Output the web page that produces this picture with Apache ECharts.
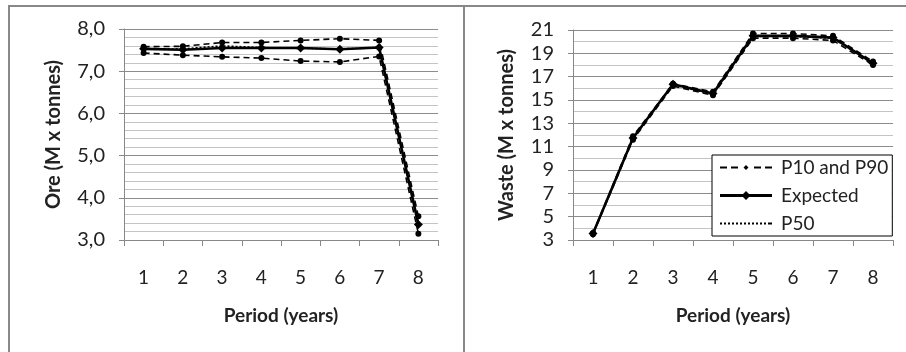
<!DOCTYPE html>
<html>
<head>
<meta charset="utf-8">
<script src="https://cdn.jsdelivr.net/npm/echarts@6/dist/echarts.min.js"></script>
<style>
  html, body { margin: 0; padding: 0; background: #fff; }
  .wrap { position: relative; width: 906px; height: 352px; overflow: hidden; }
  .panel { position: absolute; top: 5px; height: 360px; border-top: 2px solid #888; border-left: 2px solid #888; }
  .panel.left { left: 8px; width: 453px; }
  .panel.right { left: 463px; width: 450px; }
  #chart { position: absolute; left: 0; top: 0; width: 906px; height: 352px; }
</style>
</head>
<body>
<div class="wrap">
  <div class="panel left"></div>
  <div class="panel right"></div>
  <div id="chart"></div>
</div>
<script>
// period labels
const periods = ['1', '2', '3', '4', '5', '6', '7', '8']

// ore (M x tonnes)
const oreP10 = [7.43, 7.38, 7.34, 7.31, 7.24, 7.22, 7.35, 3.15]
const oreP90 = [7.58, 7.59, 7.68, 7.68, 7.73, 7.77, 7.73, 3.56]
const oreExpected = [7.53, 7.51, 7.55, 7.55, 7.55, 7.52, 7.56, 3.37]
const oreP50 = [7.52, 7.53, 7.60, 7.56, 7.54, 7.53, 7.55, 3.37]

// waste (M x tonnes)
const wasteP10 = [3.50, 11.6, 16.2, 15.4, 20.3, 20.3, 20.1, 18.0]
const wasteP90 = [3.60, 11.9, 16.4, 15.7, 20.7, 20.7, 20.5, 18.3]
const wasteExpected = [3.55, 11.75, 16.35, 15.55, 20.5, 20.5, 20.35, 18.15]
const wasteP50 = [3.55, 11.7, 16.3, 15.5, 20.45, 20.45, 20.3, 18.1]

const FONT = 'Lato, "Open Sans", sans-serif'
const txt = '#222'

// legend icons drawn as paths (52 px wide), so the marker sizes match the original
const iconDashed = 'path://M0,1.5h7v2h-7z M11,1.5h7v2h-7z M23.5,2.5L26,0L28.5,2.5L26,5z M34,1.5h7v2h-7z M45,1.5h7v2h-7z'
const iconSolid = 'path://M0,3h52v3h-52z M21.5,4.5L26,0L30.5,4.5L26,9z'
let dots = ''
for (let x = 0; x < 52; x += 4) dots += 'M' + x + ',0h2v2h-2z '
const iconDotted = 'path://' + dots + 'M50,0h2v2h-2z'

const myChart = echarts.init(document.getElementById('chart'), null, { renderer: 'canvas' })

const catAxis = (gi) => ({
  type: 'category', gridIndex: gi, data: periods, boundaryGap: true,
  name: 'Period (years)', nameLocation: 'middle', nameGap: 66,
  nameTextStyle: { color: txt, fontFamily: FONT, fontSize: 19, fontWeight: 'bold' },
  axisLine: { lineStyle: { color: '#888', width: 1 } },
  axisTick: { show: true, interval: 0, length: 6, lineStyle: { color: '#888' } },
  axisLabel: { interval: 0, margin: 28, color: txt, fontFamily: FONT, fontSize: 19 },
  splitLine: { show: false }
})

const valAxis = (gi, name, min, max, interval, minorSplit, gap, fmt) => ({
  type: 'value', gridIndex: gi, min, max, interval,
  name, nameLocation: 'middle', nameGap: gap,
  nameTextStyle: { color: txt, fontFamily: FONT, fontSize: 20, fontWeight: 'bold' },
  axisLine: { show: true, lineStyle: { color: '#888', width: 1 } },
  axisTick: { show: true, length: 5, lineStyle: { color: '#888' } },
  axisLabel: { margin: 19, color: txt, fontFamily: FONT, fontSize: 20, formatter: fmt },
  splitLine: { show: true, lineStyle: { color: '#8c8c8c', width: 1 } },
  minorTick: { show: false, splitNumber: minorSplit },
  minorSplitLine: { show: true, lineStyle: { color: '#c4c4c4', width: 1 } }
})

// one set of 4 series per panel
const lineSet = (gi, p10, p90, exp, p50) => {
  const dashed = (data) => ({
    name: 'P10 and P90', type: 'line', xAxisIndex: gi, yAxisIndex: gi, data,
    symbol: 'circle', symbolSize: 6,
    itemStyle: { color: '#000' },
    lineStyle: { color: '#000', width: 1.6, type: [6, 4] },
    z: 3
  })
  return [
    dashed(p10),
    dashed(p90),
    {
      name: 'P50', type: 'line', xAxisIndex: gi, yAxisIndex: gi, data: p50,
      symbol: 'none', showSymbol: false,
      itemStyle: { color: '#000' },
      lineStyle: { color: '#000', width: 1.6, type: [2, 2] },
      z: 4
    },
    {
      name: 'Expected', type: 'line', xAxisIndex: gi, yAxisIndex: gi, data: exp,
      symbol: 'diamond', symbolSize: 9,
      itemStyle: { color: '#000' },
      lineStyle: { color: '#000', width: 2.6 },
      z: 5
    }
  ]
}

const option = {
  backgroundColor: 'transparent',
  animation: false,
  textStyle: { fontFamily: FONT },
  grid: [
    { left: 124, top: 29, width: 314, height: 211 },
    { left: 573, top: 30, width: 320, height: 210 }
  ],
  xAxis: [catAxis(0), catAxis(1)],
  yAxis: [
    valAxis(0, 'Ore (M x tonnes)', 3, 8, 1, 5, 60, (v) => v.toFixed(1).replace('.', ',')),
    valAxis(1, 'Waste (M x tonnes)', 3, 21, 2, 2, 56, (v) => String(v))
  ],
  legend: {
    show: true, orient: 'vertical', left: 712, top: 155,
    data: [
      { name: 'P10 and P90', icon: iconDashed },
      { name: 'Expected', icon: iconSolid },
      { name: 'P50', icon: iconDotted }
    ],
    backgroundColor: '#fff', borderColor: '#000', borderWidth: 1, borderRadius: 0,
    padding: [3, 4, 3, 8], itemWidth: 52, itemHeight: 14, itemGap: 9,
    textStyle: { color: txt, fontFamily: FONT, fontSize: 19, padding: [0, 0, 0, 4] }
  },
  series: [
    ...lineSet(0, oreP10, oreP90, oreExpected, oreP50),
    ...lineSet(1, wasteP10, wasteP90, wasteExpected, wasteP50)
  ]
}

myChart.setOption(option)
window.addEventListener('resize', () => myChart.resize())
</script>
</body>
</html>
